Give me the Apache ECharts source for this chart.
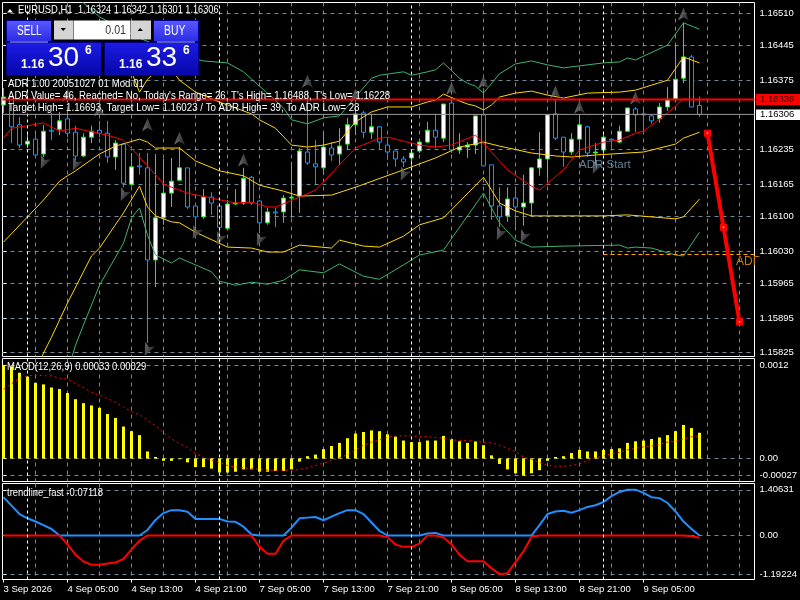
<!DOCTYPE html>
<html lang="en">
<head>
    <meta charset="UTF-8">
    <title>EURUSD,H1</title>
    <style>
        html,body{margin:0;padding:0;background:#000;}
        #main{width:800px;height:600px;}
    </style>
    <script type="text/javascript" src="https://cdn.jsdelivr.net/npm/echarts@6/dist/echarts.min.js"></script>
</head>
<body>
<div id="main"></div>
</body>
<script>
    // candles, one value per H1 bar
    let opens=[1.16325,1.16341,1.16285,1.16246,1.16256,1.16226,1.16274,1.16276,1.16297,1.16270,1.16222,1.16260,1.16274,1.16268,1.16220,1.16246,1.16165,1.16202,1.16198,1.16012,1.16097,1.16147,1.16173,1.16198,1.16121,1.16099,1.16139,1.16121,1.16076,1.16125,1.16127,1.16179,1.16131,1.16087,1.16109,1.16109,1.16137,1.16141,1.16230,1.16206,1.16198,1.16238,1.16226,1.16246,1.16285,1.16309,1.16270,1.16281,1.16244,1.16232,1.16216,1.16218,1.16232,1.16250,1.16274,1.16258,1.16329,1.16234,1.16240,1.16244,1.16305,1.16204,1.16121,1.16101,1.16137,1.16119,1.16127,1.16198,1.16216,1.16307,1.16260,1.16230,1.16256,1.16281,1.16228,1.16234,1.16256,1.16250,1.16272,1.16317,1.16307,1.16303,1.16297,1.16321,1.16337,1.16379,1.16422,1.16324];
    let closes=[1.16341,1.16281,1.16244,1.16252,1.16224,1.16272,1.16272,1.16293,1.16268,1.16222,1.16260,1.16272,1.16268,1.16220,1.16248,1.16167,1.16200,1.16200,1.16012,1.16097,1.16147,1.16171,1.16198,1.16119,1.16099,1.16139,1.16127,1.16078,1.16125,1.16127,1.16177,1.16127,1.16087,1.16109,1.16107,1.16137,1.16139,1.16232,1.16208,1.16200,1.16240,1.16224,1.16242,1.16285,1.16307,1.16270,1.16281,1.16250,1.16230,1.16216,1.16210,1.16228,1.16250,1.16274,1.16260,1.16327,1.16234,1.16240,1.16244,1.16303,1.16202,1.16121,1.16099,1.16135,1.16119,1.16127,1.16198,1.16216,1.16305,1.16258,1.16230,1.16256,1.16285,1.16228,1.16230,1.16260,1.16254,1.16272,1.16319,1.16305,1.16305,1.16293,1.16321,1.16337,1.16377,1.16422,1.16321,1.16306];
    let highs=[1.16359,1.16341,1.16301,1.16268,1.16268,1.16285,1.16309,1.16311,1.16315,1.16283,1.16268,1.16283,1.16293,1.16293,1.16254,1.16246,1.16228,1.16228,1.16228,1.16226,1.16216,1.16218,1.16240,1.16198,1.16127,1.16155,1.16149,1.16127,1.16133,1.16155,1.16198,1.16182,1.16133,1.16117,1.16117,1.16143,1.16210,1.16238,1.16355,1.16254,1.16268,1.16250,1.16278,1.16299,1.16321,1.16313,1.16307,1.16281,1.16260,1.16232,1.16222,1.16232,1.16256,1.16291,1.16307,1.16327,1.16341,1.16268,1.16250,1.16303,1.16359,1.16204,1.16159,1.16159,1.16157,1.16184,1.16200,1.16270,1.16305,1.16335,1.16260,1.16268,1.16301,1.16283,1.16248,1.16270,1.16256,1.16283,1.16319,1.16321,1.16319,1.16305,1.16329,1.16361,1.16446,1.16491,1.16426,1.16342];
    let lows=[1.16309,1.16248,1.16238,1.16238,1.16220,1.16220,1.16254,1.16264,1.16260,1.16214,1.16220,1.16248,1.16260,1.16208,1.16194,1.16159,1.16161,1.16184,1.15844,1.15957,1.16083,1.16119,1.16173,1.16115,1.16078,1.16095,1.16103,1.16066,1.16072,1.16123,1.16123,1.16123,1.16066,1.16083,1.16078,1.16087,1.16097,1.16107,1.16204,1.16163,1.16184,1.16212,1.16204,1.16234,1.16264,1.16258,1.16256,1.16234,1.16214,1.16200,1.16200,1.16198,1.16228,1.16248,1.16238,1.16250,1.16228,1.16226,1.16218,1.16226,1.16202,1.16093,1.16078,1.16089,1.16078,1.16081,1.16099,1.16182,1.16177,1.16254,1.16200,1.16224,1.16218,1.16220,1.16204,1.16226,1.16234,1.16248,1.16272,1.16270,1.16270,1.16287,1.16289,1.16313,1.16335,1.16369,1.16321,1.16301];

    // indicator lines as [bar, price]
    let greenUpper=[[9,1.16545],[10,1.16531],[12,1.16503],[14,1.16486],[17,1.16460],[20,1.16440],[24,1.16418],[25,1.16414],[28,1.16410],[30,1.16392],[32,1.16363],[33,1.16349],[35,1.16319],[36,1.16295],[38,1.16287],[40,1.16299],[42,1.16303],[44,1.16341],[46,1.16379],[47,1.16385],[50,1.16392],[51,1.16385],[53,1.16392],[54,1.16396],[55,1.16410],[57,1.16379],[58,1.16369],[59,1.16363],[60,1.16349],[62,1.16388],[64,1.16408],[66,1.16414],[68,1.16406],[70,1.16400],[72,1.16404],[75,1.16410],[77,1.16412],[78,1.16420],[79,1.16416],[83,1.16446],[85,1.16491],[87,1.16478]];
    let yellowUpper=[[13,1.16436],[16,1.16392],[17,1.16351],[18,1.16377],[20,1.16406],[21,1.16396],[22,1.16375],[24,1.16351],[27,1.16331],[31,1.16307],[32,1.16295],[34,1.16278],[36,1.16244],[38,1.16240],[40,1.16244],[42,1.16252],[44,1.16291],[46,1.16311],[48,1.16321],[51,1.16321],[53,1.16331],[54,1.16335],[55,1.16347],[57,1.16333],[58,1.16327],[59,1.16323],[60,1.16315],[61,1.16325],[62,1.16341],[64,1.16349],[66,1.16353],[68,1.16345],[70,1.16339],[73,1.16349],[77,1.16351],[79,1.16355],[83,1.16375],[85,1.16422],[87,1.16410]];
    let yellowMiddle=[[0,1.16048],[3,1.16099],[5,1.16133],[7,1.16171],[8,1.16182],[9,1.16192],[12,1.16226],[14,1.16242],[17,1.16256],[18,1.16250],[19,1.16238],[22,1.16238],[24,1.16212],[27,1.16192],[30,1.16182],[32,1.16163],[35,1.16151],[37,1.16141],[41,1.16143],[44,1.16159],[50,1.16194],[54,1.16218],[57,1.16240],[60,1.16250],[62,1.16242],[66,1.16228],[69,1.16222],[71,1.16220],[74,1.16224],[80,1.16230],[84,1.16246],[85,1.16258],[87,1.16270]];
    let yellowLower=[[4,1.15786],[5,1.15824],[6,1.15856],[8,1.15925],[11,1.16020],[12,1.16036],[15,1.16107],[17,1.16161],[18,1.16119],[19,1.16101],[21,1.16089],[22,1.16087],[24,1.16068],[28,1.16038],[31,1.16036],[33,1.16028],[35,1.16028],[37,1.16042],[41,1.16036],[42,1.16052],[45,1.16040],[47,1.16038],[50,1.16060],[52,1.16083],[55,1.16097],[60,1.16179],[61,1.16153],[62,1.16127],[64,1.16111],[66,1.16101],[75,1.16101],[78,1.16103],[84,1.16095],[85,1.16099],[87,1.16135]];
    let greenLower=[[8,1.15786],[9,1.15840],[10,1.15881],[12,1.15961],[15,1.16046],[16,1.16097],[17,1.16117],[18,1.16062],[19,1.16022],[21,1.16006],[22,1.16016],[26,1.15988],[27,1.15969],[29,1.15961],[31,1.15967],[33,1.15963],[35,1.15971],[37,1.15992],[40,1.15986],[42,1.16004],[45,1.15979],[47,1.15973],[50,1.16002],[52,1.16022],[55,1.16032],[60,1.16147],[62,1.16087],[64,1.16052],[66,1.16038],[70,1.16040],[77,1.16042],[78,1.16036],[79,1.16038],[81,1.16036],[84,1.16022],[85,1.16020],[87,1.16068]];
    let redAverage=[[0,1.16258],[1,1.16278],[3,1.16283],[5,1.16289],[7,1.16272],[9,1.16278],[13,1.16264],[15,1.16254],[17,1.16220],[19,1.16184],[20,1.16165],[23,1.16147],[26,1.16137],[29,1.16127],[31,1.16129],[33,1.16119],[34,1.16119],[37,1.16139],[39,1.16153],[42,1.16204],[44,1.16238],[47,1.16258],[48,1.16260],[52,1.16244],[54,1.16240],[56,1.16244],[59,1.16264],[60,1.16248],[63,1.16194],[66,1.16161],[67,1.16153],[70,1.16194],[72,1.16234],[75,1.16250],[77,1.16254],[79,1.16268],[80,1.16272],[83,1.16309],[85,1.16337],[87,1.16335]];
    let fractalsUp=[[8,1.16345],[12,1.16315],[18,1.16285],[22,1.16258],[30,1.16214],[38,1.16373],[44,1.16345],[56,1.16359],[60,1.16371],[69,1.16351],[72,1.16321],[79,1.16339],[85,1.16509]];
    let fractalsDown=[[5,1.16208],[9,1.16204],[15,1.16143],[18,1.15830],[24,1.16066],[27,1.16054],[32,1.16052],[50,1.16184],[62,1.16064],[65,1.16058],[74,1.16198]];
    let adrPath=[[88,1.16268],[90,1.16078],[92,1.15887]];
    let askPrice=1.16336;
    let bidPrice=1.16306;
    let adrLowPrice=1.16023;

    // MACD sub window
    let macdHist=[0.00120,0.00118,0.00110,0.00105,0.00097,0.00095,0.00091,0.00089,0.00084,0.00076,0.00071,0.00068,0.00065,0.00057,0.00052,0.00041,0.00035,0.00030,0.00009,0.00002,-0.00003,-0.00003,-0.00001,-0.00005,-0.00011,-0.00011,-0.00013,-0.00018,-0.00018,-0.00017,-0.00014,-0.00014,-0.00017,-0.00017,-0.00016,-0.00016,-0.00014,-0.00004,0.00003,0.00005,0.00012,0.00016,0.00020,0.00026,0.00032,0.00034,0.00036,0.00035,0.00031,0.00028,0.00023,0.00021,0.00021,0.00023,0.00023,0.00029,0.00025,0.00022,0.00020,0.00022,0.00017,0.00004,-0.00007,-0.00014,-0.00019,-0.00022,-0.00019,-0.00015,-0.00003,0.00002,0.00003,0.00007,0.00011,0.00009,0.00009,0.00011,0.00012,0.00013,0.00020,0.00022,0.00023,0.00025,0.00027,0.00030,0.00035,0.00043,0.00039,0.00033];
    let macdSignal=[0.00089,0.00096,0.00103,0.00106,0.00107,0.00106,0.00106,0.00103,0.00102,0.00096,0.00091,0.00085,0.00081,0.00077,0.00072,0.00066,0.00060,0.00056,0.00049,0.00042,0.00033,0.00025,0.00019,0.00014,0.00007,0.00001,-0.00002,-0.00005,-0.00009,-0.00011,-0.00012,-0.00013,-0.00014,-0.00015,-0.00015,-0.00015,-0.00015,-0.00014,-0.00012,-0.00009,-0.00006,-0.00003,0.00001,0.00005,0.00011,0.00017,0.00021,0.00024,0.00027,0.00029,0.00029,0.00029,0.00028,0.00028,0.00027,0.00026,0.00024,0.00023,0.00023,0.00022,0.00021,0.00020,0.00017,0.00013,0.00009,0.00002,-0.00001,-0.00005,-0.00009,-0.00010,-0.00010,-0.00009,-0.00007,-0.00003,0.00001,0.00003,0.00006,0.00008,0.00011,0.00013,0.00015,0.00016,0.00018,0.00021,0.00022,0.00025,0.00028,0.00029];

    // trendline_fast sub window
    let trendUp=[1.18,0.92,0.66,0.53,0.43,0.32,0.2,0,0,0,0,0,0,0,0,0,0,0,0.17,0.48,0.69,0.78,0.78,0.73,0.51,0.51,0.51,0.51,0.43,0.42,0.27,0.03,0,0,0,0,0.24,0.53,0.55,0.57,0.47,0.58,0.69,0.78,0.78,0.66,0.4,0.14,0,0,0,0,0,0.06,0.08,0,0,0,0,0,0,0,0,0,0,0,0,0.32,0.66,0.74,0.76,0.7,0.78,0.88,0.93,1.03,1.21,1.34,1.41,1.41,1.31,1.18,1.15,1,0.74,0.43,0.2,0];
    let trendDown=[0,0,0,0,0,0,0,0,-0.27,-0.59,-0.8,-0.9,-0.9,-0.86,-0.83,-0.72,-0.43,-0.16,0,0,0,0,0,0,0,0,0,0,0,0,0,0,-0.35,-0.56,-0.56,-0.16,0,0,0,0,0,0,0,0,0,0,0,0,-0.05,-0.28,-0.35,-0.35,-0.25,0,0,-0.06,-0.27,-0.59,-0.79,-0.79,-0.79,-1.01,-1.19,-1.16,-0.82,-0.49,-0.04,0,0,0,0,0,0,0,0,0,0,0,0,0,0,0,0,0,0,0,-0.02,-0.07];

    // axes
    let priceTicks=[1.16510,1.16445,1.16375,1.16235,1.16165,1.16100,1.16030,1.15965,1.15895,1.15825];
    let macdTicks=[0.0012,0,-0.00022];
    let macdTickLabels=['0.0012','0.00','-0.00027'];
    let trendTicks=[1.40631,0,-1.19224];
    let trendTickLabels=['1.40631','0.00','-1.19224'];
    let gridBars=[4,8,12,16,20,24,28,32,36,40,44,48,52,56,60,64,68,72,76,80,84,88,92];
    let timeBars=[0,8,16,24,32,40,48,56,64,72,80];
    let timeLabels=['3 Sep 2026','4 Sep 05:00','4 Sep 13:00','4 Sep 21:00','7 Sep 05:00','7 Sep 13:00','7 Sep 21:00','8 Sep 05:00','8 Sep 13:00','8 Sep 21:00','9 Sep 05:00'];
    let dayBars=[3,27,51,75];
    let barMin=-0.125;
    let barMax=93.875;

    let font='Liberation Sans';
    let gridColor='#778899';
    let chart=echarts.init(document.getElementById('main'));

    let indexed=function(list){return list.map((v,i)=>[i,v])};

    let grids=[
        {left:2.5,top:2.5,width:752,height:354,show:true,borderColor:'#fff',borderWidth:1,backgroundColor:'#000'},
        {left:2.5,top:358.5,width:752,height:123,show:true,borderColor:'#fff',borderWidth:1,backgroundColor:'#000'},
        {left:2.5,top:483.5,width:752,height:96,show:true,borderColor:'#fff',borderWidth:1,backgroundColor:'#000'}
    ];

    let barAxis=function(gridIndex){
        return {
            type:'value',gridIndex:gridIndex,min:barMin,max:barMax,
            axisLine:{show:false},
            axisTick:{show:false,customValues:gridBars},
            axisLabel:{show:false},
            splitLine:{show:true,lineStyle:{color:gridColor,type:[4,4],width:1}}
        };
    };

    let sideAxis=function(gridIndex,min,max,ticks,formatter){
        return {
            type:'value',gridIndex:gridIndex,position:'right',min:min,max:max,scale:true,
            axisLine:{show:false},
            axisTick:{show:true,length:3,customValues:ticks,lineStyle:{color:'#fff'}},
            axisLabel:{show:true,customValues:ticks,color:'#fff',fontFamily:font,fontSize:9.5,margin:5,formatter:formatter},
            splitLine:{show:true,lineStyle:{color:gridColor,type:[4,4],width:1}}
        };
    };

    let lineSeries=function(data,color,width,z,dash){
        return {type:'line',xAxisIndex:0,yAxisIndex:0,data:data,symbol:'none',silent:true,z:z||3,
            lineStyle:{color:color,width:width,type:dash||'solid'}};
    };

    let separators=function(axisIndex){
        return {type:'line',xAxisIndex:axisIndex,yAxisIndex:axisIndex,data:[],z:1,silent:true,
            markLine:{silent:true,symbol:'none',animation:false,label:{show:false},
                lineStyle:{color:'#fff',type:[3,3],width:1},
                data:dayBars.map(b=>({xAxis:b}))}};
    };

    let arrowFill=new echarts.graphic.LinearGradient(0,0,1,0,[{offset:0,color:'#8a8a8a'},{offset:0.5,color:'#5c5c5c'},{offset:1,color:'#2c3038'}]);

    let series=[
        separators(0),separators(1),separators(2),
        {
            type:'candlestick',xAxisIndex:0,yAxisIndex:0,z:2,silent:true,barWidth:5,
            encode:{x:0,y:[1,2,3,4]},
            data:opens.map((o,i)=>[i,o,closes[i],lows[i],highs[i]]),
            itemStyle:{color:'#fff',color0:'#000',borderColor:'#00ff00',borderColor0:'#1e90ff',borderWidth:1}
        },
        lineSeries(greenUpper,'#3cb371',1),
        lineSeries(yellowUpper,'#ffd700',1),
        lineSeries(yellowMiddle,'#ffd700',1),
        lineSeries(yellowLower,'#ffd700',1),
        lineSeries(greenLower,'#3cb371',1),
        lineSeries(redAverage,'#ff0000',1),
        {type:'scatter',xAxisIndex:0,yAxisIndex:0,z:4,silent:true,data:fractalsUp,symbol:'path://M0,-6L5,6L0,3L-5,6Z',symbolSize:[11,13],itemStyle:{color:arrowFill}},
        {type:'scatter',xAxisIndex:0,yAxisIndex:0,z:4,silent:true,data:fractalsDown,symbol:'path://M0,6L-5,-6L0,-3L5,-6Z',symbolSize:[11,13],symbolRotate:-25,itemStyle:{color:arrowFill}},
        lineSeries([[barMin,bidPrice],[barMax,bidPrice]],'#9a9a9a',1,5),
        lineSeries([[barMin,askPrice],[barMax,askPrice]],'#ff0000',2,5),
        lineSeries([[75,adrLowPrice],[barMax,adrLowPrice]],'#ffa500',1,3,[4,3]),
        {type:'line',xAxisIndex:0,yAxisIndex:0,z:6,silent:true,data:adrPath,symbol:'rect',symbolSize:7,showAllSymbol:true,
            lineStyle:{color:'#ff0000',width:4},itemStyle:{color:'#ff0000'}},
        {type:'scatter',xAxisIndex:0,yAxisIndex:0,z:7,silent:true,data:adrPath,symbol:'rect',symbolSize:1.5,itemStyle:{color:'#fff'}},
        {type:'bar',xAxisIndex:1,yAxisIndex:1,z:2,silent:true,barWidth:3,data:indexed(macdHist),itemStyle:{color:'#ffff00'}},
        {type:'line',xAxisIndex:1,yAxisIndex:1,z:3,silent:true,symbol:'none',data:indexed(macdSignal),
            lineStyle:{color:'#ff0000',width:1,type:[2,3]}},
        {type:'line',xAxisIndex:2,yAxisIndex:2,z:3,silent:true,symbol:'none',data:indexed(trendUp),lineStyle:{color:'#1e90ff',width:2}},
        {type:'line',xAxisIndex:2,yAxisIndex:2,z:3,silent:true,symbol:'none',data:indexed(trendDown),lineStyle:{color:'#ff0000',width:2}}
    ];

    let option={
        animation:false,
        backgroundColor:'#000',
        grid:grids,
        xAxis:[
            barAxis(0),barAxis(1),barAxis(2),
            {
                type:'value',gridIndex:2,position:'bottom',min:barMin,max:barMax,
                axisLine:{show:false},
                axisTick:{show:true,length:3,customValues:timeBars,lineStyle:{color:'#fff'}},
                axisLabel:{show:true,customValues:timeBars,color:'#fff',fontFamily:font,fontSize:9.5,margin:5,align:'left',
                    formatter:v=>timeLabels[timeBars.indexOf(v)]},
                splitLine:{show:false}
            }
        ],
        yAxis:[
            sideAxis(0,1.15817,1.16532,priceTicks,v=>v.toFixed(5)),
            sideAxis(1,-0.000295,0.001282,macdTicks,v=>macdTickLabels[macdTicks.indexOf(v)]),
            sideAxis(2,-1.354,1.6,trendTicks,v=>trendTickLabels[trendTicks.indexOf(v)])
        ],
        series:series
    };
    chart.setOption(option);

    // --- overlays drawn on top of the plot, as in the terminal window
    let txt=function(x,y,s,size,fill,extra){
        return Object.assign({type:'text',x:x,y:y,z:(extra&&extra.z)||100,silent:true,
            style:{text:s,font:(extra&&extra.weight?extra.weight+' ':'')+size+'px "'+font+'"',fill:fill,verticalAlign:'middle',align:(extra&&extra.align)||'left'}},
            extra&&extra.scaleX?{scaleX:extra.scaleX}:{});
    };
    let box=function(x,y,w,h,fill,stroke){
        return {type:'rect',z:99,silent:true,shape:{x:x,y:y,width:w,height:h},style:{fill:fill,stroke:stroke||null,lineWidth:stroke?1:0}};
    };
    let vGrad=function(a,b){return new echarts.graphic.LinearGradient(0,0,0,1,[{offset:0,color:a},{offset:1,color:b}])};
    let tri=function(points,fill){return {type:'polygon',z:100,silent:true,shape:{points:points},style:{fill:fill}}};

    let askY=chart.convertToPixel({yAxisIndex:0},askPrice);
    let bidY=chart.convertToPixel({yAxisIndex:0},bidPrice);

    let elements=[
        tri([[7,12.5],[10,9],[13,12.5]],'#fff'),
        txt(18,10,'EURUSD,H1',10.5,'#fff',{scaleX:0.9}),
        txt(78,10,'1.16324 1.16342 1.16301 1.16306',10.5,'#fff',{scaleX:0.875}),

        // one click panel
        box(6.5,20.5,45,21,vGrad('#5a5aff','#2a2ae6'),'#00008b'),
        box(153.5,20.5,45,21,vGrad('#5a5aff','#2a2ae6'),'#00008b'),
        box(6.5,42.5,95,33,vGrad('#1c1ce6','#0606a8'),'#00008b'),
        box(104.5,42.5,94,33,vGrad('#1c1ce6','#0606a8'),'#00008b'),
        box(10,41.5,38,1,'#b0b0ff'),
        box(157,41.5,38,1,'#b0b0ff'),
        box(54,20.5,19,19,'#d4d4d4'),
        box(73.5,20.5,57,19,'#fff'),
        box(131,20.5,20,19,'#d4d4d4'),
        tri([[60.5,28],[66,28],[63.2,31]],'#000'),
        tri([[137.5,31],[143,31],[140.2,28]],'#000'),
        txt(126,30,'0.01',13,'#333',{align:'right',scaleX:0.82}),
        txt(17,31,'SELL',14,'#fff',{scaleX:0.72}),
        txt(164,31,'BUY',14,'#fff',{scaleX:0.74}),
        txt(21,65,'1.16',12,'#fff',{weight:'bold'}),
        txt(48,58,'30',28,'#fff'),
        txt(85,51,'6',12,'#fff',{weight:'bold'}),
        txt(119,65,'1.16',12,'#fff',{weight:'bold'}),
        txt(146,58,'33',28,'#fff'),
        txt(183,51,'6',12,'#fff',{weight:'bold'}),

        // ADR text block
        txt(8,84,'ADR 1.00 20051027 01 Mod 01',10.5,'#fff',{scaleX:0.92}),
        txt(8,96,"ADR Value= 46, Reached= No, Today's Range= 26, T's High= 1.16488, T's Low= 1.16228",10.5,'#fff',{scaleX:0.915}),
        txt(8,108,'Target High= 1.16693, Target Low= 1.16023 / To ADR High= 39, To ADR Low= 28',10.5,'#fff',{scaleX:0.925}),
        txt(579,165,'ADR Start',11.5,'#5f8296'),

        // label cut off by the plot edge
        txt(736,262,'ADR',12,'#c87800',{z:98}),
        box(755,257,45,14,'#000'),

        // price tags on the side scale
        box(756,askY-5.5,44,11,'#ff0000'),
        txt(760,askY,'1.16336',9.5,'#300'),
        box(756,bidY-5,44,10.5,'#fff'),
        txt(760,bidY,'1.16306',9.5,'#000'),

        // indicator captions
        txt(7,367,'MACD(12,26,9) 0.00033 0.00029',10.5,'#fff',{scaleX:0.9}),
        txt(7,493,'trendline_fast -0.07118',10.5,'#fff',{scaleX:0.9})
    ];
    chart.setOption({graphic:{elements:elements}});
</script>
</html>
